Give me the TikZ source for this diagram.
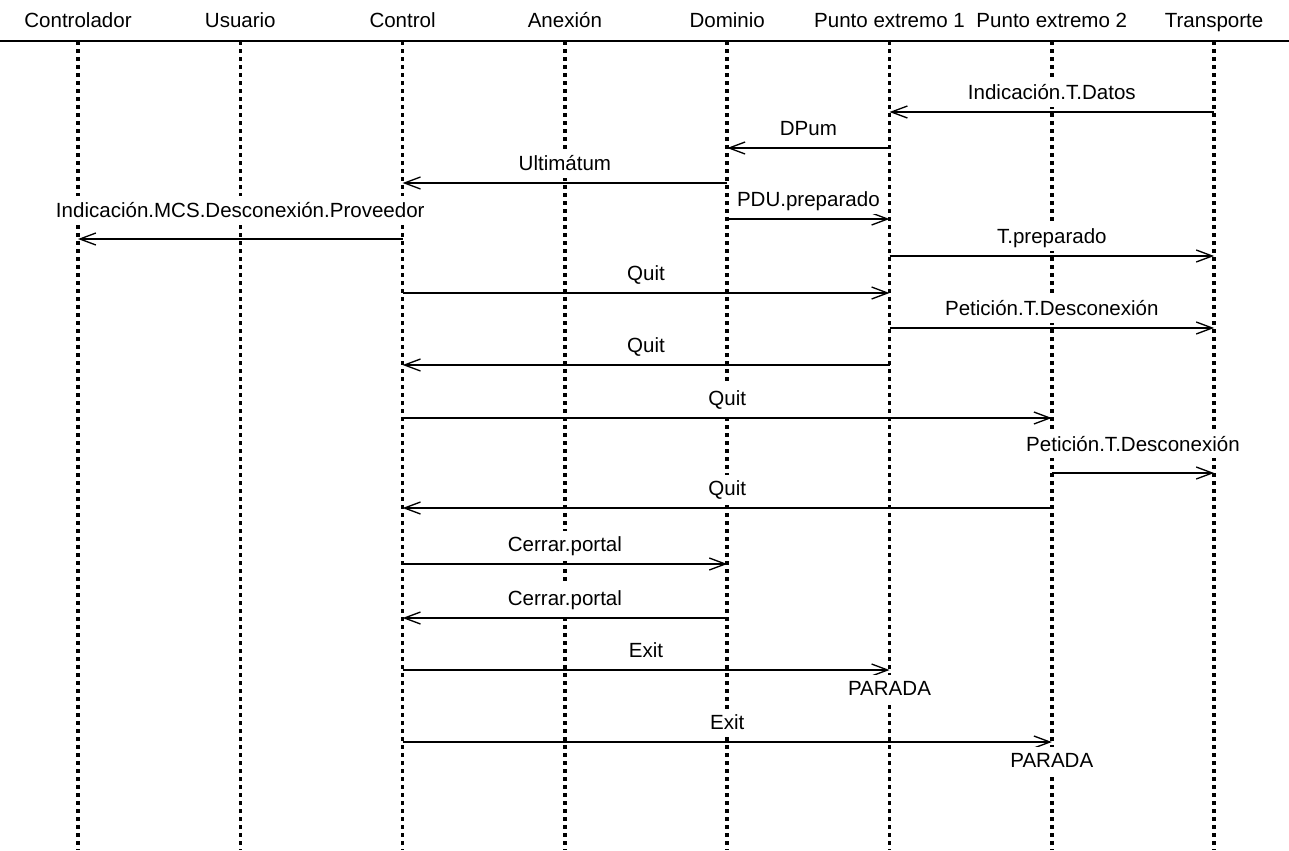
\documentclass[tikz,border=0pt]{standalone}
\usepackage{fontspec}
\setmainfont{Liberation Sans}
\usetikzlibrary{arrows.meta}

\begin{document}
\begin{tikzpicture}[x=0.75pt,y=-0.75pt,>={Straight Barb[length=12pt,width=9pt]},
    font=\fontsize{15.4pt}{18pt}\selectfont]
    \tikzstyle{head}=[anchor=base, inner sep=0pt]
    \tikzstyle{lifeline}=[line width=2.6pt, dash pattern=on 3pt off 3pt]
    \tikzstyle{msg}=[->, line width=1pt]
    \tikzstyle{lbl}=[fill=white, text height=13pt, text depth=3pt, inner xsep=2pt, inner ysep=2.5pt, above=3.5pt]
    \tikzstyle{high}=[above=7pt]

    \useasboundingbox (0,0) rectangle (1289,850);

    % participants
    \node[head] (ctl) at (78,27) {Controlador};
    \node[head] (usu) at (240.3,27) {Usuario};
    \node[head] (ctr) at (402.6,27) {Control};
    \node[head] (anx) at (564.9,27) {Anexión};
    \node[head] (dom) at (727.2,27) {Dominio};
    \node[head] (pe1) at (889.5,27) {Punto extremo 1};
    \node[head] (pe2) at (1051.8,27) {Punto extremo 2};
    \node[head] (tra) at (1214.1,27) {Transporte};
    \draw[line width=0.8pt] (0,41) -- (1289,41);
    \foreach \n in {ctl,usu,ctr,anx,dom,pe1,pe2,tra}
        \draw[lifeline] (\n |- 0,41) -- (\n |- 0,850);

    % messages
    \path (tra |- 0,112) edge[msg] node[lbl] (m1) {Indicación.T.Datos} (pe1 |- 0,112);
    \path (pe1 |- 0,148) edge[msg] node[lbl] (m2) {DPum} (dom |- 0,148);
    \path (dom |- 0,183) edge[msg] node[lbl] (m3) {Ultimátum} (ctr |- 0,183);
    \path (dom |- 0,219) edge[msg] node[lbl] (m4) {PDU.preparado} (pe1 |- 0,219);
    \path (ctr |- 0,239) edge[msg] node[lbl,high] (m5) {Indicación.MCS.Desconexión.Proveedor} (ctl |- 0,239);
    \path (pe1 |- 0,256) edge[msg] node[lbl] (m6) {T.preparado} (tra |- 0,256);
    \path (ctr |- 0,293) edge[msg] node[lbl] (m7) {Quit} (pe1 |- 0,293);
    \path (pe1 |- 0,328) edge[msg] node[lbl] (m8) {Petición.T.Desconexión} (tra |- 0,328);
    \path (pe1 |- 0,365) edge[msg] node[lbl] (m9) {Quit} (ctr |- 0,365);
    \path (ctr |- 0,418) edge[msg] node[lbl] (m10) {Quit} (pe2 |- 0,418);
    \path (pe2 |- 0,473) edge[msg] node[lbl,high] (m11) {Petición.T.Desconexión} (tra |- 0,473);
    \path (pe2 |- 0,508) edge[msg] node[lbl] (m12) {Quit} (ctr |- 0,508);
    \path (ctr |- 0,564) edge[msg] node[lbl] (m13) {Cerrar.portal} (dom |- 0,564);
    \path (dom |- 0,618) edge[msg] node[lbl] (m14) {Cerrar.portal} (ctr |- 0,618);
    \path (ctr |- 0,670) edge[msg] node[lbl] (m15) {Exit} node[lbl,at end,below=6.75pt] (stop1) {PARADA} (pe1 |- 0,670);
    \path (ctr |- 0,742) edge[msg] node[lbl] (m16) {Exit} node[lbl,at end,below=6.75pt] (stop2) {PARADA} (pe2 |- 0,742);
\end{tikzpicture}
\end{document}
